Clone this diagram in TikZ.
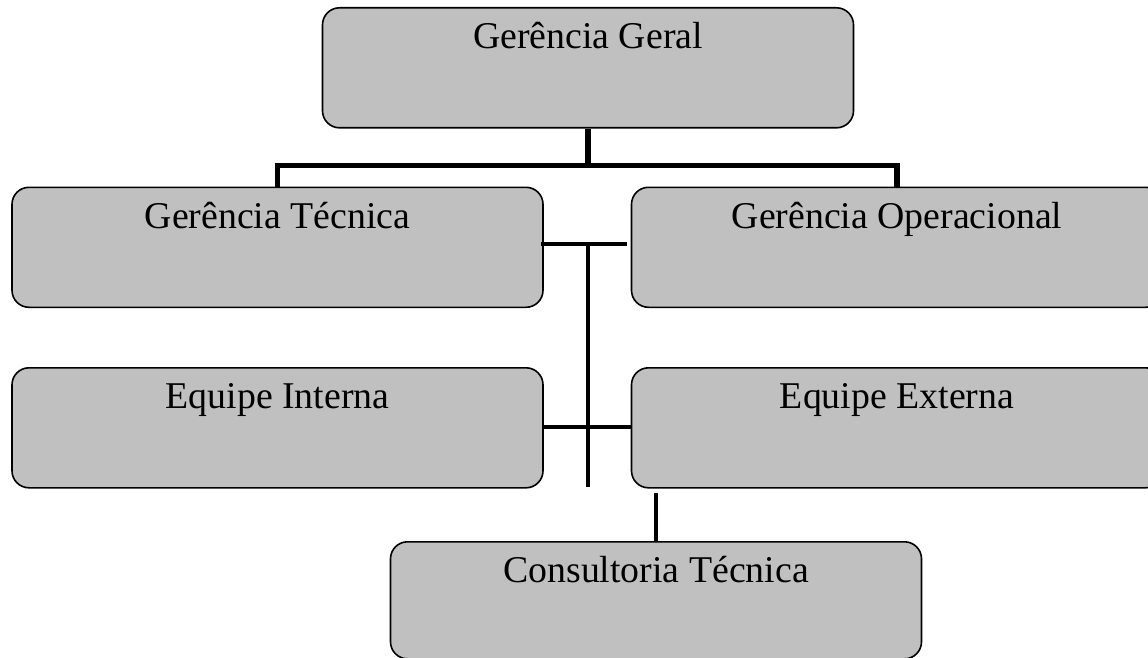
\documentclass[tikz,border=0pt]{standalone}
\usepackage{fontspec}
\setmainfont{Liberation Serif}
\begin{document}
\begin{tikzpicture}[x=1pt,y=-1pt,
  unit/.style={draw=black, line width=1.6pt, fill=boxgray, rounded corners=17pt,
    anchor=north, inner xsep=0pt, inner ysep=0pt, minimum width=531pt,
    text height=41pt, text depth=79pt, font=\fontsize{37.8}{45}\selectfont},
  trunk/.style={draw=black, line width=5.5pt},
  link/.style={draw=black, line width=4pt}]
\definecolor{boxgray}{HTML}{C0C0C0}
\useasboundingbox (0,0) rectangle (1148,658);
\clip (0,0) rectangle (1148,658);

% boxes of the chart
\node[unit] (gg) at (588,7) {Gerência Geral};
\node[unit] (gt) at (277.5,186.5) {Gerência Técnica};
\node[unit] (go) at (897,186.5) {Gerência Operacional};
\node[unit] (ei) at (277.5,367) {Equipe Interna};
\node[unit] (ee) at (897,367) {Equipe Externa};
\node[unit, text depth=76pt] (ct) at (656,541) {Consultoria Técnica};

% top-level bus
\coordinate (bus) at (588,165.5);
\draw[trunk] (gt.north) |- (bus) -| (go.north);
\draw[trunk] (gg.south) -- (bus);

% middle links
\coordinate (j1) at (588,243.5);
\coordinate (j2) at (588,427);
\coordinate (j3) at (588,487);
\draw[link] ([xshift=-3pt]gt.east |- j1) -- ([xshift=-4pt]go.west |- j1);
\draw[link] (j1) -- (j3);
\draw[link] (ei.east |- j2) -- (ee.west |- j2);

% link to the consultancy
\coordinate (k) at (656,493);
\draw[link] (k) -- (ct.north);
\end{tikzpicture}
\end{document}
